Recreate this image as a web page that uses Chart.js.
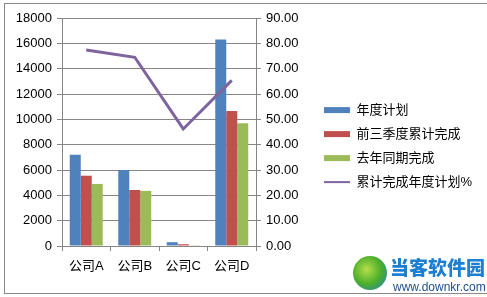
<!DOCTYPE html>
<html>
<head>
<meta charset="utf-8">
<script src="https://cdn.jsdelivr.net/npm/chart.js@4.4.0/dist/chart.umd.min.js"></script>
<style>
  html, body { margin: 0; padding: 0; background: #fff; }
  #wrap { position: relative; width: 487px; height: 297px; overflow: hidden; background: #fff; }
  #frame { position: absolute; left: 4px; top: 3px; width: 490px; height: 289px; border: 1px solid #8a8a8a; background: #fff; }
  #chartBox { position: absolute; left: 0; top: 0; width: 487px; height: 297px; }
  #logo { position: absolute; left: 353px; top: 256px; width: 34px; height: 34px; border-radius: 50%;
          background: radial-gradient(circle at 40% 40%, #b5dd4a 0%, #4caf2a 50%, #1f7fc4 100%); }
  #wmText { position: absolute; left: 390px; top: 255px; font-family: "Noto Sans CJK SC", sans-serif;
            font-weight: 900; font-size: 19px; line-height: 24px; color: #1c7fd1; }
  #wmUrl { position: absolute; left: 393px; top: 280px; font-family: "Liberation Sans", sans-serif;
           font-size: 12px; line-height: 14px; color: #1a4f8f; }
</style>
</head>
<body>
<div id="wrap">
  <div id="frame"></div>
  <div id="chartBox"><canvas id="grafico" width="487" height="297"></canvas></div>
  <div id="logo"></div>
  <div id="wmText">当客软件园</div>
  <div id="wmUrl">www.downkr.com</div>
</div>
<script>
// dados do gráfico
const categorias = ['公司A', '公司B', '公司C', '公司D'];
const seriesNomes = ['年度计划', '前三季度累计完成', '去年同期完成', '累计完成年度计划%'];
const anualPlano = [7200, 6000, 300, 16300];
const tresTrimestres = [5550, 4420, 140, 10650];
const anoPassado = [4900, 4350, 20, 9700];
const percentual = [77.4, 74.5, 46.2, 65.4];

const fonte = { family: '"Liberation Sans", "Noto Sans CJK SC", sans-serif', size: 13 };
const corGrade = '#868686';

// força a largura da legenda (o layout do Chart.js limita a metade do espaço)
const larguraLegenda = {
    id: 'larguraLegenda',
    beforeLayout(chart) {
        const lg = chart.legend;
        if (lg && !lg._patched) {
            const fitOriginal = lg.fit.bind(lg);
            lg.fit = function () { fitOriginal(); this.width = 172; };
            lg._patched = true;
        }
    }
};

const ctx = document.getElementById('grafico').getContext('2d');

let grafico = new Chart(ctx, {
    type: 'bar',
    data: {
        labels: categorias,
        datasets: [
            { label: seriesNomes[0], data: anualPlano, backgroundColor: '#4F81BD', yAxisID: 'y', order: 2 },
            { label: seriesNomes[1], data: tresTrimestres, backgroundColor: '#C0504D', yAxisID: 'y', order: 2 },
            { label: seriesNomes[2], data: anoPassado, backgroundColor: '#9BBB59', yAxisID: 'y', order: 2 },
            {
                type: 'line', label: seriesNomes[3], data: percentual, yAxisID: 'y1', order: 1,
                borderColor: '#7E649E', backgroundColor: '#7E649E', borderWidth: 3,
                pointRadius: 0, tension: 0
            }
        ]
    },
    options: {
        responsive: false,
        animation: false,
        categoryPercentage: 0.68,
        barPercentage: 1,
        layout: { padding: { top: 18, right: 2, bottom: 4, left: 6 } },
        scales: {
            x: {
                grid: { display: true, drawOnChartArea: false, drawTicks: true, tickLength: 5, color: corGrade, offset: true },
                border: { color: corGrade },
                ticks: { color: '#000', font: fonte, padding: 8, maxRotation: 0 },
                afterFit: (s) => { s.height = 47; }
            },
            y: {
                position: 'left', min: 0, max: 18000,
                grid: { color: corGrade, tickLength: 5 },
                border: { color: corGrade },
                ticks: { stepSize: 2000, color: '#000', font: fonte, padding: 5,
                         callback: (v) => String(v) },
                afterFit: (s) => { s.width = 56; }
            },
            y1: {
                position: 'right', min: 0, max: 90,
                grid: { drawOnChartArea: false, color: corGrade, tickLength: 5 },
                border: { color: corGrade },
                ticks: { stepSize: 10, color: '#000', font: fonte, padding: 5,
                         callback: (v) => v.toFixed(2) },
                afterFit: (s) => { s.width = 57; }
            }
        },
        plugins: {
            tooltip: { enabled: false },
            legend: {
                display: true,
                position: 'right',
                align: 'start',
                title: { display: true, text: '', font: { size: 13 }, padding: { top: 59, bottom: 0 } },
                labels: {
                    color: '#000', font: fonte, padding: 11,
                    usePointStyle: true, pointStyleWidth: 26, boxHeight: 6,
                    sort: (a, b) => a.datasetIndex - b.datasetIndex,
                    generateLabels: (chart) => {
                        const itens = Chart.defaults.plugins.legend.labels.generateLabels(chart);
                        return itens.map((it) => {
                            const ehLinha = it.datasetIndex === 3;
                            it.pointStyle = ehLinha ? 'line' : 'rect';
                            it.lineWidth = ehLinha ? 2 : 0;
                            it.strokeStyle = it.fillStyle;
                            return it;
                        });
                    }
                }
            }
        }
    },
    plugins: [larguraLegenda]
});
</script>
</body>
</html>
